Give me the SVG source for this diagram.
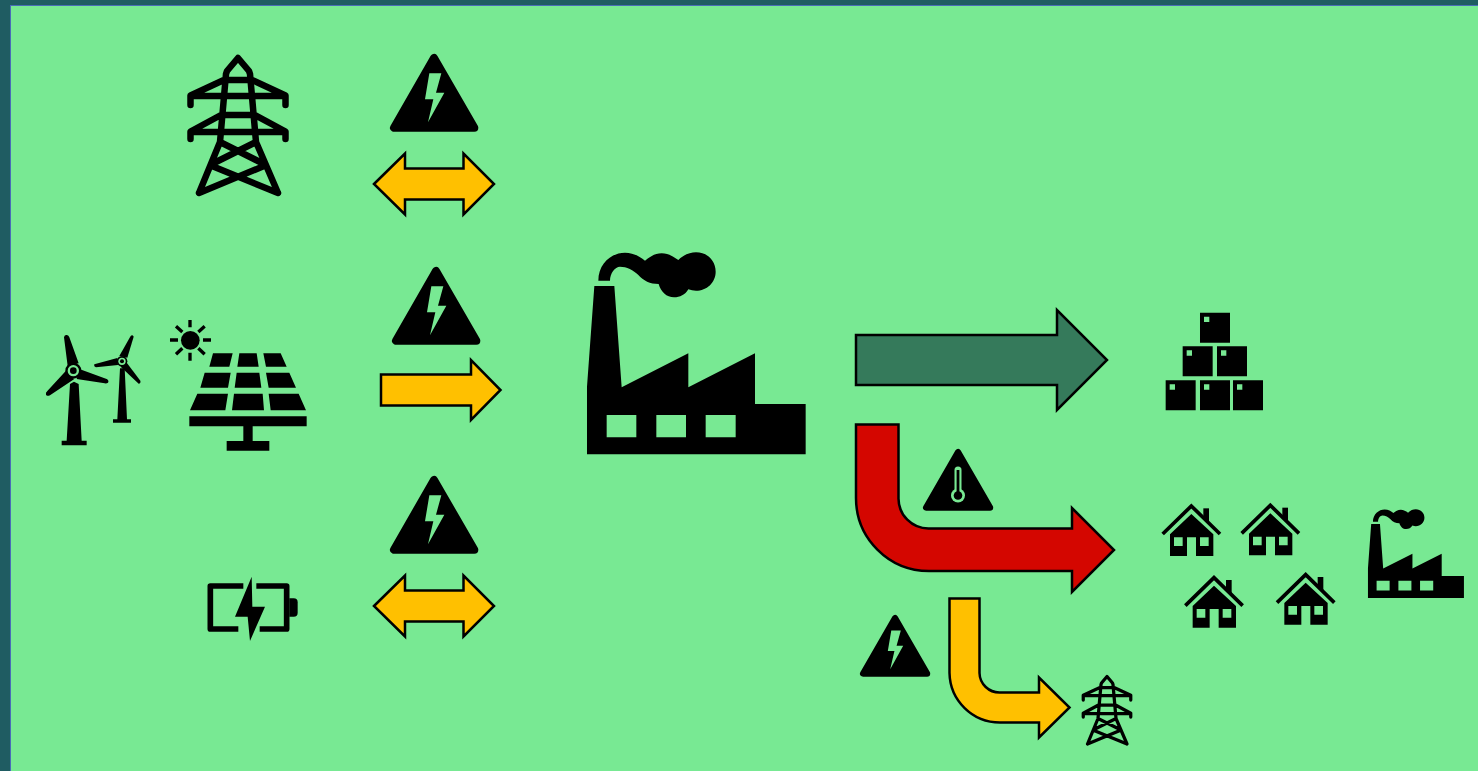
<svg xmlns="http://www.w3.org/2000/svg" width="1478" height="771" viewBox="0 0 1478 771">
<style>
.k{fill:#000}
.g{fill:#78e993}
.ln{fill:none;stroke:#000;stroke-linecap:round;stroke-linejoin:round}
.arrow{stroke:#000;stroke-width:2.500;stroke-linejoin:miter}
.y{fill:#ffc000}
</style>
<defs>
<g id="tower">
<path class="ln" stroke-width="6.500" d="M199 193L220 142L226 74L227 71L238 58L249 71L250 74L256 142L278 193M226 79L190.500 95.500L190.500 105M250 79L285.500 95.500L285.500 105M190.500 96H285.500M226 80H250M222 115H254M221 115L190.500 131.500L190.500 139M255 115L285.500 131.500L285.500 139M190.500 132H285.500M220 142L262 163M256 142L214 163M212 166L278 193M264 166L199 193"/>
</g>
<g id="tri"><polygon class="k" stroke="#000" stroke-width="24" stroke-linejoin="round" points="222,54 102,263 343,263"/></g>
<g id="warn">
<use href="#tri"/>
<polygon class="g" points="208,100 244,100 228,158 253,158 204,247 220,178 195,178"/>
</g>
<path id="dbl" class="arrow y" d="M374 184L405 153.500V168.500H463.500V153.500L494 184L463.500 214.500V199.500H405V214.500Z"/>
<g id="factory">
<path class="k" fill-rule="evenodd" d="M51 643V440L73 138H133L155 442L355 340V442L555 340V492H707V643ZM110 525V592H199V525ZM259 525V592H348V525ZM407 525V592H497V525Z"/>
<path class="k" d="M85 122C85 70 125 38 165 38C190 38 210 50 225 62C240 50 255 40 275 40C295 40 310 50 325 60C340 45 360 37 378 37C412 37 437 62 437 95C437 128 410 152 378 152C370 152 362 150 355 148C345 165 330 172 312 172C290 172 272 155 266 132C240 132 220 122 205 105C190 90 170 80 150 80C135 80 120 100 120 122Z"/>
</g>
<g id="house">
<path class="k" d="M160 625H177V665H160Z"/>
<path class="g" d="M150 650L124 628L90 660V680H190V680Z"/>
<path fill="none" stroke="#000" stroke-width="11" d="M38 702L124 618L210 702"/>
<path class="k" fill-rule="evenodd" d="M60 768V703L124 642L190 703V768H138V712H111V768ZM72 712V738H98V712ZM150 712V738H176V712Z"/>
</g>
<path id="box" class="k" fill-rule="evenodd" d="M0 0H90V90H0ZM12 12V28H28V12Z"/>
</defs>
<rect width="1478" height="771" fill="#1f5c62"/>
<rect x="10.500" y="5.500" width="1480" height="780" class="g" stroke="#4a6cb8" stroke-width="1"/>

<g id="connectors">
<use href="#dbl"/>
<path class="arrow y" d="M381 374.500H471V360L500.500 390L471 420V405.500H381Z"/>
<use href="#dbl" y="422"/>
<path fill="#357a5b" stroke="#000" stroke-width="2.500" d="M856 335H1057V310L1107 360L1057 410V385H856Z"/>
<path fill="#d40600" stroke="#000" stroke-width="2.500" d="M856 424.500H898.500V498A30 30 0 0 0 929 528.500H1072V508L1114 550L1072 592V571H929A73 73 0 0 1 856 498Z"/>
<path class="arrow y" d="M949.500 598.500H979.500V673A20 20 0 0 0 1000 692.500H1039V677.500L1069.500 707.500L1039 737.500V722.500H1000A50.500 50.500 0 0 1 949.500 673Z"/>
</g>

<g id="grid-tower"><use href="#tower"/></g>

<g id="wind-turbines" transform="translate(30 310) scale(.33333)">
<path class="k" d="M120 222L132 215L146 222L155 392H170V406H95V392H110Z"/>
<path class="k" d="M102 82Q104 73 111 75Q116 76 118 82L146 160L113 168Z"/>
<path class="k" d="M148 177L230 207Q238 212 234 218Q230 221 224 220L140 207Z"/>
<path class="k" d="M108 182L132 208L60 256Q52 260 48 254Q46 248 52 243Z"/>
<circle cx="130" cy="182" r="24" class="k"/><circle cx="130" cy="182" r="17" class="g"/><circle cx="130" cy="182" r="10" class="k"/>
<path class="k" d="M270 175H284L291 328H303V338H249V328H262Z"/>
<path class="k" d="M302 78Q307 73 311 80L292 143L268 138Z"/>
<path class="k" d="M262 144L264 165L198 172Q191 170 193 163Z"/>
<path class="k" d="M288 155L331 212Q333 220 326 221L272 170Z"/>
<circle cx="276" cy="154" r="16" class="k"/><circle cx="276" cy="154" r="11" class="g"/><circle cx="276" cy="154" r="6" class="k"/>
</g>

<g id="solar-panel" transform="translate(30 310) scale(.33333)">
<circle cx="481" cy="91" r="28" class="k"/>
<path fill="none" stroke="#000" stroke-width="10" d="M480 30V52M480 128V152M420 90H444M519 90H543M438 49L457 66M524 49L505 66M438 133L457 115M524 133L505 115"/>
<path class="k" d="M549 130H608L598 170H538ZM628 130H680L686 170H622ZM700 130H752L770 170H708ZM524 188H602L594 233H511ZM620 188H688L694 233H614ZM708 188H778L798 233H716ZM502 251H594L586 301H480ZM612 251H698L702 301H606ZM716 251H806L828 301H722ZM478 319H830V349H668V393H718V422H590V393H640V349H478Z"/>
</g>

<g id="battery" transform="translate(195 565) scale(.33333)">
<path fill="none" stroke="#000" stroke-width="17" stroke-linejoin="round" d="M145 63H46V192H130M184 63H275V192H194"/>
<path class="k" d="M283 100H296Q308 100 308 112V143Q308 155 296 155H283Z"/>
<polygon class="k" points="170,35 120,155 158,155 165,228 210,125 172,125"/>
</g>

<g id="warning-1"><use href="#warn" transform="translate(360 40) scale(.33333)"/></g>
<g id="warning-2"><use href="#warn" transform="translate(362 253) scale(.33333)"/></g>
<g id="warning-3"><use href="#warn" transform="translate(360 462) scale(.33333)"/></g>

<g id="factory-main"><use href="#factory" transform="translate(570 240) scale(.33333)"/></g>

<g id="boxes" transform="translate(1150 300) scale(.33333)">
<use href="#box" x="150" y="38"/>
<use href="#box" x="98" y="139"/>
<use href="#box" x="201" y="139"/>
<use href="#box" x="47" y="241"/>
<use href="#box" x="150" y="241"/>
<use href="#box" x="249" y="241"/>
</g>

<g id="warning-heat">
<use href="#tri" transform="translate(899.150 437.900) scale(.265)"/>
<rect x="954.500" y="466.500" width="7" height="28" rx="3.500" class="g"/>
<circle cx="958" cy="495.500" r="7" class="g"/>
<circle cx="958" cy="495.500" r="4.300" class="k"/>
<rect x="956.600" y="470" width="2.800" height="25" class="k"/>
</g>

<g id="warning-small"><use href="#warn" transform="translate(836.150 603.900) scale(.265)"/></g>

<g id="houses" transform="translate(1150 300) scale(.33333)">
<use href="#house"/>
<use href="#house" x="237" y="-2"/>
<use href="#house" x="68" y="215"/>
<use href="#house" x="343" y="206"/>
</g>

<g id="factory-small"><use href="#factory" transform="translate(1360.500 503.900) scale(.1463)"/></g>

<g id="tower-small"><use href="#tower" transform="translate(988 647.500) scale(.5)"/></g>
</svg>
